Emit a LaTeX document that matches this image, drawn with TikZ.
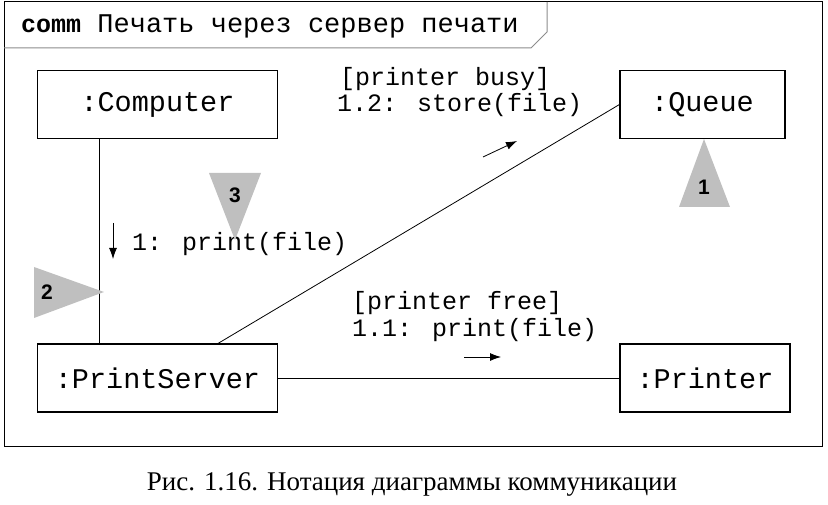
\documentclass[tikz,border=0pt]{standalone}
\usepackage{fontspec}
\usetikzlibrary{arrows.meta}
\setmainfont{Liberation Serif}
\newfontfamily\monof{Liberation Mono}
\newfontfamily\sansf{Liberation Sans}
\begin{document}
\begin{tikzpicture}[x=1pt,y=-1pt,
  obj/.style={draw,line width=1.1pt,minimum width=240pt,minimum height=68pt,inner sep=0pt,font=\monof\fontsize{28.5}{30}\selectfont},
  lbl/.style={font=\monof\fontsize{25}{27}\selectfont,inner sep=0pt,anchor=west},
  tri/.style={fill=black!25,draw=none},
  num/.style={font=\sansf\bfseries\fontsize{21}{22}\selectfont,inner sep=0pt},
  conn/.style={line width=0.8pt},
  msg/.style={line width=0.8pt,-{Latex[length=11pt,width=8pt]}}]
\useasboundingbox (0,0) rectangle (828,505);
% frame
\draw[line width=1pt] (4,2) rectangle (822,446);
\draw[black!45,line width=1pt] (4,48) -- (531,48) -- (547,32) -- (547,2);
\node[anchor=west,inner sep=0pt] (title) at (21,26) {{\monof\bfseries\fontsize{25}{27}\selectfont comm}{\monof\fontsize{27}{29}\selectfont\ Печать через сервер печати}};
% objects
\node[obj] (comp) at (157.5,104.5) {:Computer};
\node[obj,minimum width=165pt] (queue) at (702.5,104.5) {:Queue};
\node[obj] (ps) at (157.5,378) {:PrintServer};
\node[obj,minimum width=170pt] (printer) at (705,378) {:Printer};
% links
\draw[conn] (comp.south -| 99,0) -- (ps.north -| 99,0);
\draw[conn] (ps.north -| 218,0) -- (queue.west);
\draw[conn] (ps.east) -- (printer.west);
% messages
\node[lbl] (m1) at (132,244) {1: print(file)};
\coordinate (a1s) at (113,223);
\coordinate (a1e) at (113,259);
\draw[msg] (a1s) -- (a1e);
\node[lbl] (m12a) at (340,79) {[printer busy]};
\node[lbl] (m12b) at (337,105) {1.2: store(file)};
\coordinate (a2s) at (483,157);
\coordinate (a2e) at (517,141);
\draw[msg] (a2s) -- (a2e);
\node[lbl] (m11a) at (352,303) {[printer free]};
\node[lbl] (m11b) at (352,330) {1.1: print(file)};
\coordinate (a3s) at (464,357);
\coordinate (a3e) at (501,357);
\draw[msg] (a3s) -- (a3e);
% triangles
\fill[tri] (704,139) -- (730,207) -- (679,207) -- cycle;
\node[num] (n1) at (704,187) {1};
\fill[tri] (104,292) -- (34,267) -- (34,318) -- cycle;
\node[num] (n2) at (47,292) {2};
\fill[tri] (235,240) -- (209,173) -- (261,173) -- cycle;
\node[num] (n3) at (235,195) {3};
% caption
\node[font=\fontsize{27}{30}\selectfont,inner sep=0pt] (cap) at (412,484) {Рис. 1.16. Нотация диаграммы коммуникации};
\end{tikzpicture}
\end{document}
